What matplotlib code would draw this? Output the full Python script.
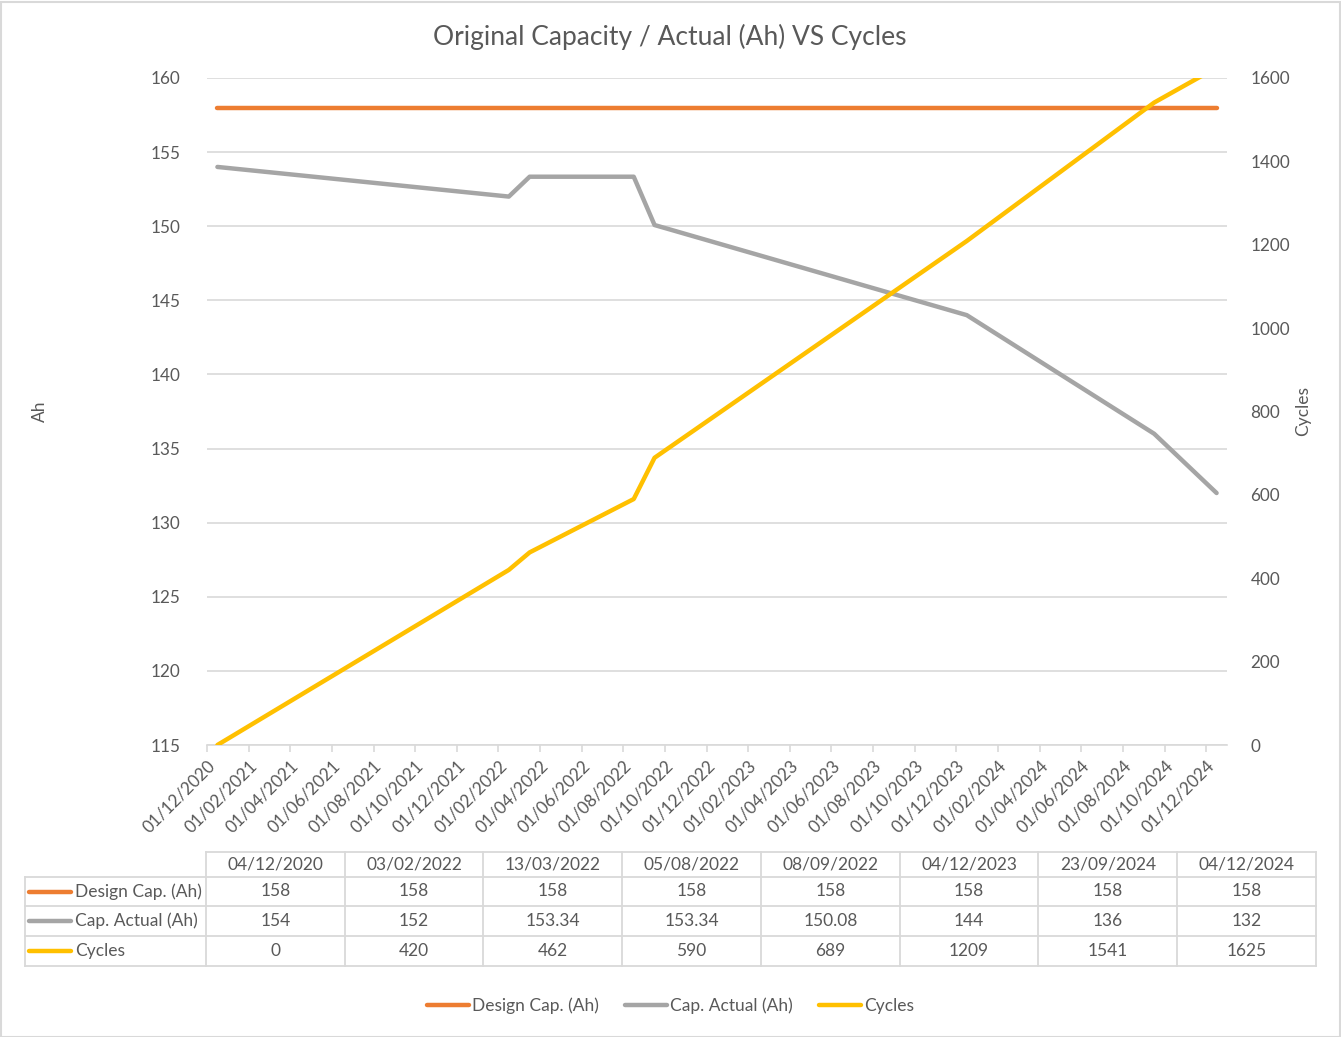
import matplotlib
matplotlib.use('Agg')
import matplotlib.pyplot as plt
import matplotlib.transforms as mtransforms
from matplotlib.lines import Line2D
from matplotlib.patches import Rectangle

# data from the chart's table
dates = ['04/12/2020', '03/02/2022', '13/03/2022', '05/08/2022',
         '08/09/2022', '04/12/2023', '23/09/2024', '04/12/2024']
design_cap = [158, 158, 158, 158, 158, 158, 158, 158]
cap_actual = [154, 152, 153.34, 153.34, 150.08, 144, 136, 132]
cycles = [0, 420, 462, 590, 689, 1209, 1541, 1625]
cap_actual_txt = ['154', '152', '153.34', '153.34', '150.08', '144', '136', '132']

series_names = ['Design Cap. (Ah)', 'Cap. Actual (Ah)', 'Cycles']
tick_labels = ['01/12/2020', '01/02/2021', '01/04/2021', '01/06/2021', '01/08/2021',
               '01/10/2021', '01/12/2021', '01/02/2022', '01/04/2022', '01/06/2022',
               '01/08/2022', '01/10/2022', '01/12/2022', '01/02/2023', '01/04/2023',
               '01/06/2023', '01/08/2023', '01/10/2023', '01/12/2023', '01/02/2024',
               '01/04/2024', '01/06/2024', '01/08/2024', '01/10/2024', '01/12/2024']

ORANGE = '#ED7D31'
GRAY = '#A5A5A5'
YELLOW = '#FFC000'
TXT = '#595959'
GRID = '#D9D9D9'
colors = [ORANGE, GRAY, YELLOW]

plt.rcParams['font.family'] = ['Lato', 'DejaVu Sans']


def month_pos(d):
    # excel date axis with base unit = months, points sit in the middle of their month
    day, month, year = [int(p) for p in d.split('/')]
    return (year - 2020) * 12 + (month - 12) + 0.5


xs = [month_pos(d) for d in dates]

W, H = 1341, 1037
fig = plt.figure(figsize=(W / 100, H / 100), dpi=100)

left, right, top, bottom = 207, 1227, 78, 745
ax = fig.add_axes([left / W, 1 - bottom / H, (right - left) / W, (bottom - top) / H])
ax2 = ax.twinx()

lw = 3.2
ax.plot(xs, design_cap, color=ORANGE, lw=lw, solid_capstyle='round', zorder=3)
ax.plot(xs, cap_actual, color=GRAY, lw=lw, solid_capstyle='round', zorder=3)
ax2.plot(xs, cycles, color=YELLOW, lw=lw, solid_capstyle='round', zorder=3)

ax.set_xlim(0, 49)
ax.set_ylim(115, 160)
ax2.set_ylim(0, 1600)
ax.set_yticks(range(115, 161, 5))
ax2.set_yticks(range(0, 1601, 200))
ax.set_xticks(range(0, 49, 2))
ax.set_xticklabels(tick_labels, rotation=45, ha='right', va='top', rotation_mode='anchor')
shift = mtransforms.ScaledTranslation(5 / 100, 0, fig.dpi_scale_trans)
for lab in ax.get_xticklabels():
    lab.set_transform(lab.get_transform() + shift)

ax.grid(axis='y', color=GRID, lw=1.2)
ax.set_axisbelow(True)
for a in (ax, ax2):
    for s in a.spines.values():
        s.set_visible(False)
ax.spines['bottom'].set_visible(True)
ax.spines['bottom'].set_color(GRID)
ax.spines['bottom'].set_linewidth(1.2)
ax.tick_params(axis='x', colors=GRID, labelcolor=TXT, labelsize=12.3, length=5, width=1.2, pad=4)
ax.tick_params(axis='y', length=0, labelcolor=TXT, labelsize=12.3, pad=19)
ax2.tick_params(axis='y', length=0, labelcolor=TXT, labelsize=12.3, pad=17)

ax.set_ylabel('Ah', color=TXT, fontsize=12.5)
ax.yaxis.set_label_coords((48 - left) / (right - left), 0.5)
ax2.set_ylabel('Cycles', color=TXT, fontsize=12.5)
ax2.yaxis.set_label_coords((1295 - left) / (right - left), 0.5)

fig.text(670 / W, 1 - 37 / H, 'Original Capacity / Actual (Ah) VS Cycles',
         ha='center', va='center', color=TXT, fontsize=19)

# data table under the chart, drawn in pixel coordinates
tax = fig.add_axes([0, 0, 1, 1])
tax.set_xlim(0, W)
tax.set_ylim(H, 0)
tax.axis('off')

col_x = [206 + i * 138.75 for i in range(9)]
row_y = [852, 877, 906, 936, 966]
tl = dict(color=GRID, lw=1.3)
tax.plot([col_x[0], col_x[-1]], [row_y[0], row_y[0]], **tl)
for y in row_y[1:]:
    tax.plot([25, col_x[-1]], [y, y], **tl)
for x in col_x:
    tax.plot([x, x], [row_y[0], row_y[-1]], **tl)
tax.plot([25, 25], [row_y[1], row_y[-1]], **tl)

cell_fs = 12.5
for i, d in enumerate(dates):
    cx = (col_x[i] + col_x[i + 1]) / 2
    tax.text(cx, (row_y[0] + row_y[1]) / 2, d, ha='center', va='center', color=TXT, fontsize=cell_fs)
    vals = [str(design_cap[i]), cap_actual_txt[i], str(cycles[i])]
    for r, v in enumerate(vals):
        tax.text(cx, (row_y[r + 1] + row_y[r + 2]) / 2, v, ha='center', va='center',
                 color=TXT, fontsize=cell_fs)

for r, (name, c) in enumerate(zip(series_names, colors)):
    ym = (row_y[r + 1] + row_y[r + 2]) / 2
    tax.plot([29, 71], [ym, ym], color=c, lw=lw, solid_capstyle='round')
    tax.text(75, ym, name, ha='left', va='center', color=TXT, fontsize=cell_fs)

# legend at the bottom
handles = [Line2D([], [], color=c, lw=lw, solid_capstyle='round') for c in colors]
fig.legend(handles, series_names, loc='center', bbox_to_anchor=(0.5, 1 - 1006 / H),
           ncol=3, frameon=False, fontsize=12.5, labelcolor=TXT, handlelength=2.4,
           handletextpad=0.2, columnspacing=1.5)

# chart border
fig.patches.append(Rectangle((0.5 / W, 0.5 / H), (W - 2) / W, (H - 2) / H, transform=fig.transFigure,
                             fill=False, edgecolor=GRID, lw=1.5))

fig.savefig('out.png', dpi=100)
